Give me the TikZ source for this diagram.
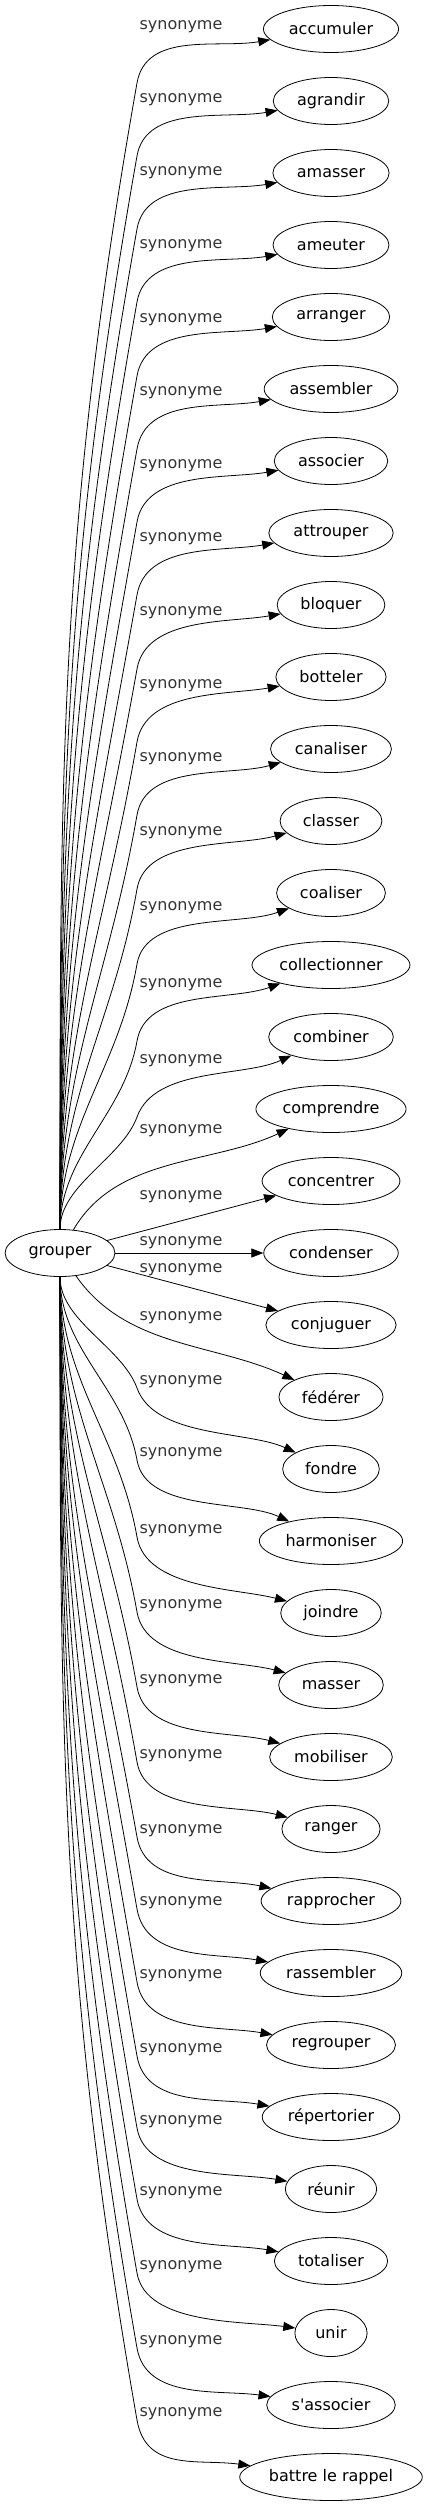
\documentclass[tikz,border=0pt]{standalone}
\usepackage{fontspec}
\setmainfont{DejaVu Sans}
\usepackage{tikz}
\usetikzlibrary{shapes.geometric, arrows.meta}

\tikzset{
    word/.style={ellipse, draw, line width=0.8pt, inner sep=0pt, minimum height=47pt,
        minimum width={1.19*width("#1")+35}},
    lbl/.style={inner sep=0pt, text=black!80},
    syn/.style={line width=0.8pt, -{Triangle[length=12pt,width=9pt]}}
}

\begin{document}
\fontsize{16}{19}\selectfont
\begin{tikzpicture}[x=1pt, y=-1pt]
        \useasboundingbox (0,0) rectangle (429,2507);

        % Centre word
        \node[word=grouper] (grouper) at (60,1253) {grouper};

        % Synonyms
        \node[word=accumuler] (accumuler) at (331,29) {accumuler};
        \node[word=agrandir] (agrandir) at (331,101) {agrandir};
        \node[word=amasser] (amasser) at (331,173) {amasser};
        \node[word=ameuter] (ameuter) at (331,245) {ameuter};
        \node[word=arranger] (arranger) at (331,317) {arranger};
        \node[word=assembler] (assembler) at (331,389) {assembler};
        \node[word=associer] (associer) at (331,461) {associer};
        \node[word=attrouper] (attrouper) at (331,533) {attrouper};
        \node[word=bloquer] (bloquer) at (331,605) {bloquer};
        \node[word=botteler] (botteler) at (331,677) {botteler};
        \node[word=canaliser] (canaliser) at (331,749) {canaliser};
        \node[word=classer] (classer) at (331,821) {classer};
        \node[word=coaliser] (coaliser) at (331,893) {coaliser};
        \node[word=collectionner] (collectionner) at (331,965) {collectionner};
        \node[word=combiner] (combiner) at (331,1037) {combiner};
        \node[word=comprendre] (comprendre) at (331,1109) {comprendre};
        \node[word=concentrer] (concentrer) at (331,1181) {concentrer};
        \node[word=condenser] (condenser) at (331,1253) {condenser};
        \node[word=conjuguer] (conjuguer) at (331,1325) {conjuguer};
        \node[word=fédérer] (federer) at (331,1397) {fédérer};
        \node[word=fondre] (fondre) at (331,1469) {fondre};
        \node[word=harmoniser] (harmoniser) at (331,1541) {harmoniser};
        \node[word=joindre] (joindre) at (331,1613) {joindre};
        \node[word=masser] (masser) at (331,1685) {masser};
        \node[word=mobiliser] (mobiliser) at (331,1757) {mobiliser};
        \node[word=ranger] (ranger) at (331,1829) {ranger};
        \node[word=rapprocher] (rapprocher) at (331,1901) {rapprocher};
        \node[word=rassembler] (rassembler) at (331,1973) {rassembler};
        \node[word=regrouper] (regrouper) at (331,2045) {regrouper};
        \node[word=répertorier] (repertorier) at (331,2117) {répertorier};
        \node[word=réunir] (reunir) at (331,2189) {réunir};
        \node[word=totaliser] (totaliser) at (331,2261) {totaliser};
        \node[word=unir] (unir) at (331,2333) {unir};
        \node[word=s\textquotesingle associer] (sassocier) at (331,2405) {s\textquotesingle associer};
        \node[word=battre le rappel] (battre) at (331,2477) {battre le rappel};

        % Labels
        \node[lbl] (s1) at (181,27) {synonyme};
        \node[lbl] (s2) at (181,100) {synonyme};
        \node[lbl] (s3) at (181,173) {synonyme};
        \node[lbl] (s4) at (181,246) {synonyme};
        \node[lbl] (s5) at (181,320) {synonyme};
        \node[lbl] (s6) at (181,393) {synonyme};
        \node[lbl] (s7) at (181,466) {synonyme};
        \node[lbl] (s8) at (181,539) {synonyme};
        \node[lbl] (s9) at (181,613) {synonyme};
        \node[lbl] (s10) at (181,686) {synonyme};
        \node[lbl] (s11) at (181,759) {synonyme};
        \node[lbl] (s12) at (181,833) {synonyme};
        \node[lbl] (s13) at (181,908) {synonyme};
        \node[lbl] (s14) at (181,985) {synonyme};
        \node[lbl] (s15) at (181,1061) {synonyme};
        \node[lbl] (s16) at (181,1131) {synonyme};
        \node[lbl] (s17) at (181,1197) {synonyme};
        \node[lbl] (s18) at (181,1243) {synonyme};
        \node[lbl] (s19) at (181,1270) {synonyme};
        \node[lbl] (s20) at (181,1318) {synonyme};
        \node[lbl] (s21) at (181,1382) {synonyme};
        \node[lbl] (s22) at (181,1454) {synonyme};
        \node[lbl] (s23) at (181,1531) {synonyme};
        \node[lbl] (s24) at (181,1606) {synonyme};
        \node[lbl] (s25) at (181,1681) {synonyme};
        \node[lbl] (s26) at (181,1756) {synonyme};
        \node[lbl] (s27) at (181,1831) {synonyme};
        \node[lbl] (s28) at (181,1903) {synonyme};
        \node[lbl] (s29) at (181,1976) {synonyme};
        \node[lbl] (s30) at (181,2050) {synonyme};
        \node[lbl] (s31) at (181,2122) {synonyme};
        \node[lbl] (s32) at (181,2193) {synonyme};
        \node[lbl] (s33) at (181,2267) {synonyme};
        \node[lbl] (s34) at (181,2342) {synonyme};
        \node[lbl] (s35) at (181,2414) {synonyme};

        % Links going up
        \draw[syn] (grouper.north) .. controls +(0,-447) and +(-79,447) .. (137,83) .. controls +(9,-52) and +(-52,9) .. (accumuler.190);
        \draw[syn] (grouper.north) .. controls +(0,-419) and +(-74,419) .. (137,156) .. controls +(9,-52) and +(-52,9) .. (agrandir.190);
        \draw[syn] (grouper.north) .. controls +(0,-390) and +(-69,390) .. (137,229) .. controls +(9,-52) and +(-52,9) .. (amasser.190);
        \draw[syn] (grouper.north) .. controls +(0,-362) and +(-64,362) .. (137,302) .. controls +(9,-52) and +(-52,9) .. (ameuter.190);
        \draw[syn] (grouper.north) .. controls +(0,-333) and +(-59,333) .. (137,376) .. controls +(9,-52) and +(-52,9) .. (arranger.190);
        \draw[syn] (grouper.north) .. controls +(0,-305) and +(-54,305) .. (137,449) .. controls +(9,-52) and +(-52,9) .. (assembler.190);
        \draw[syn] (grouper.north) .. controls +(0,-276) and +(-49,276) .. (137,522) .. controls +(9,-52) and +(-52,9) .. (associer.190);
        \draw[syn] (grouper.north) .. controls +(0,-248) and +(-44,248) .. (137,595) .. controls +(9,-52) and +(-52,9) .. (attrouper.190);
        \draw[syn] (grouper.north) .. controls +(0,-219) and +(-39,219) .. (137,669) .. controls +(9,-52) and +(-52,9) .. (bloquer.190);
        \draw[syn] (grouper.north) .. controls +(0,-190) and +(-33,190) .. (137,742) .. controls +(9,-52) and +(-52,9) .. (botteler.190);
        \draw[syn] (grouper.north) .. controls +(0,-162) and +(-28,162) .. (137,815) .. controls +(9,-52) and +(-51,14) .. (canaliser.195);
        \draw[syn] (grouper.north) .. controls +(0,-133) and +(-23,133) .. (137,889) .. controls +(9,-52) and +(-51,14) .. (classer.195);
        \draw[syn] (grouper.north) .. controls +(0,-104) and +(-18,104) .. (137,964) .. controls +(9,-52) and +(-50,18) .. (coaliser.200);
        \draw[syn] (grouper.north) .. controls +(0,-74) and +(-13,74) .. (137,1041) .. controls +(9,-52) and +(-50,18) .. (collectionner.200);
        \draw[syn] (grouper.north) .. controls +(0,-44) and +(-15,41) .. (137,1117) .. controls +(18,-50) and +(-48,22) .. (combiner.205);
        \draw[syn] (grouper.60) .. controls +(43,-74) and +(-77,36) .. (comprendre.205);
        \draw[syn] (grouper) -- (concentrer);
        \draw[syn] (grouper) -- (condenser);

        % Links going down
        \draw[syn] (grouper) -- (conjuguer);
        \draw[syn] (grouper.-55) .. controls +(50,72) and +(-80,-37) .. (federer.155);
        \draw[syn] (grouper.south) .. controls +(0,44) and +(-15,-41) .. (137,1388) .. controls +(18,50) and +(-48,-22) .. (fondre.155);
        \draw[syn] (grouper.south) .. controls +(0,72) and +(-13,-72) .. (137,1460) .. controls +(9,52) and +(-47,-22) .. (harmoniser.155);
        \draw[syn] (grouper.south) .. controls +(0,102) and +(-18,-102) .. (137,1537) .. controls +(9,52) and +(-50,-13) .. (joindre.165);
        \draw[syn] (grouper.south) .. controls +(0,131) and +(-23,-131) .. (137,1612) .. controls +(9,52) and +(-50,-13) .. (masser.165);
        \draw[syn] (grouper.south) .. controls +(0,160) and +(-28,-160) .. (137,1687) .. controls +(9,52) and +(-50,-13) .. (mobiliser.165);
        \draw[syn] (grouper.south) .. controls +(0,190) and +(-33,-190) .. (137,1762) .. controls +(9,52) and +(-50,-13) .. (ranger.165);
        \draw[syn] (grouper.south) .. controls +(0,219) and +(-39,-219) .. (137,1837) .. controls +(9,52) and +(-51,-11) .. (rapprocher.168);
        \draw[syn] (grouper.south) .. controls +(0,247) and +(-43,-247) .. (137,1909) .. controls +(9,52) and +(-51,-9) .. (rassembler.170);
        \draw[syn] (grouper.south) .. controls +(0,275) and +(-48,-275) .. (137,1982) .. controls +(9,52) and +(-51,-9) .. (regrouper.170);
        \draw[syn] (grouper.south) .. controls +(0,304) and +(-53,-304) .. (137,2056) .. controls +(9,52) and +(-51,-9) .. (repertorier.170);
        \draw[syn] (grouper.south) .. controls +(0,332) and +(-58,-332) .. (137,2128) .. controls +(9,52) and +(-51,-9) .. (reunir.170);
        \draw[syn] (grouper.south) .. controls +(0,360) and +(-63,-360) .. (137,2199) .. controls +(9,52) and +(-51,-9) .. (totaliser.170);
        \draw[syn] (grouper.south) .. controls +(0,389) and +(-68,-389) .. (137,2273) .. controls +(9,52) and +(-52,-7) .. (unir.172);
        \draw[syn] (grouper.south) .. controls +(0,418) and +(-73,-418) .. (137,2348) .. controls +(9,52) and +(-52,-7) .. (sassocier.172);
        \draw[syn] (grouper.south) .. controls +(0,446) and +(-78,-446) .. (137,2420) .. controls +(9,52) and +(-52,-7) .. (battre.172);
    \end{tikzpicture}
\end{document}
